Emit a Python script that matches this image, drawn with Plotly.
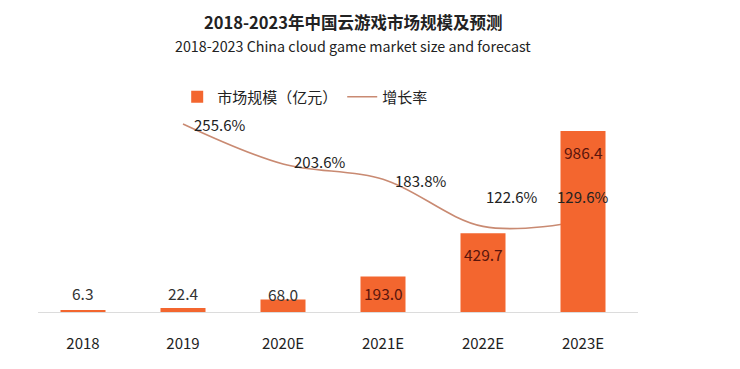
import plotly.graph_objects as go

categories = ["2018", "2019", "2020E", "2021E", "2022E", "2023E"]
market_size = [6.3, 22.4, 68.0, 193.0, 429.7, 986.4]
growth_cats = ["2019", "2020E", "2021E", "2022E", "2023E"]
growth_rate = [255.6, 203.6, 183.8, 122.6, 129.6]

bar_label_shift = [18, 15, 6, -16, -21, -21]
growth_label_shift = [(9, -1), (9, 2), (10, -1), (1, 30), (-28, 24)]

FONT = "Noto Sans CJK SC"
BAR_COLOR = "#F3662F"
LINE_COLOR = "#C98A72"

fig = go.Figure()
fig.add_trace(go.Scatter(
    x=growth_cats, y=growth_rate, name="增长率", mode="lines",
    line=dict(color=LINE_COLOR, width=1.6, shape="spline", smoothing=1.0),
    yaxis="y", hoverinfo="skip"))
fig.add_trace(go.Bar(
    x=categories, y=market_size, name="市场规模（亿元）",
    marker=dict(color=BAR_COLOR, line=dict(width=0)),
    yaxis="y2", width=0.45))

annotations = []
for i, v in enumerate(market_size):
    inside = bar_label_shift[i] < 0
    annotations.append(dict(
        x=i, y=v, xref="x", yref="y2", text=f"{v:.1f}", showarrow=False,
        xanchor="center", yanchor="middle", yshift=bar_label_shift[i],
        font=dict(family=FONT, size=15.5, color="#5a150c" if inside else "#333333")))
for c, v, (dx, dy) in zip(growth_cats, growth_rate, growth_label_shift):
    idx = categories.index(c)
    annotations.append(dict(
        x=idx, y=v, xref="x", yref="y", text=f"{v:.1f}%", showarrow=False,
        xanchor="left", yanchor="middle", xshift=dx, yshift=dy,
        font=dict(family=FONT, size=15, color="#222222")))
annotations.append(dict(
    x=0.525, y=1.51, xref="paper", yref="paper", showarrow=False,
    text="<b>2018-2023年中国云游戏市场规模及预测</b>",
    font=dict(family=FONT, size=16.5, color="#222222"), xanchor="center", yanchor="middle"))
annotations.append(dict(
    x=0.525, y=1.39, xref="paper", yref="paper", showarrow=False,
    text="2018-2023 China cloud game market size and forecast",
    font=dict(family=FONT, size=14.3, color="#222222"), xanchor="center", yanchor="middle"))

fig.update_layout(
    width=740, height=369,
    margin=dict(l=30, r=110, t=112, b=65),
    paper_bgcolor="white", plot_bgcolor="white",
    font=dict(family=FONT, size=15, color="#222222"),
    showlegend=True,
    legend=dict(orientation="h", x=0.232, y=1.12, xanchor="left", yanchor="middle",
                traceorder="reversed", font=dict(family=FONT, size=15, color="#222222"),
                bgcolor="rgba(0,0,0,0)"),
    xaxis=dict(type="category", categoryorder="array", categoryarray=categories,
               range=[-0.45, 5.55], showgrid=False, zeroline=False,
               showline=True, linecolor="#dcdcdc", linewidth=1,
               ticks="", ticklabelstandoff=18,
               tickfont=dict(family=FONT, size=15, color="#222222")),
    yaxis=dict(range=[11.4, 260.7], visible=False, showgrid=False, zeroline=False),
    yaxis2=dict(range=[0, 1046], overlaying="y", side="right", visible=False,
                showgrid=False, zeroline=False),
    annotations=annotations,
)

fig.write_html("out.html")
